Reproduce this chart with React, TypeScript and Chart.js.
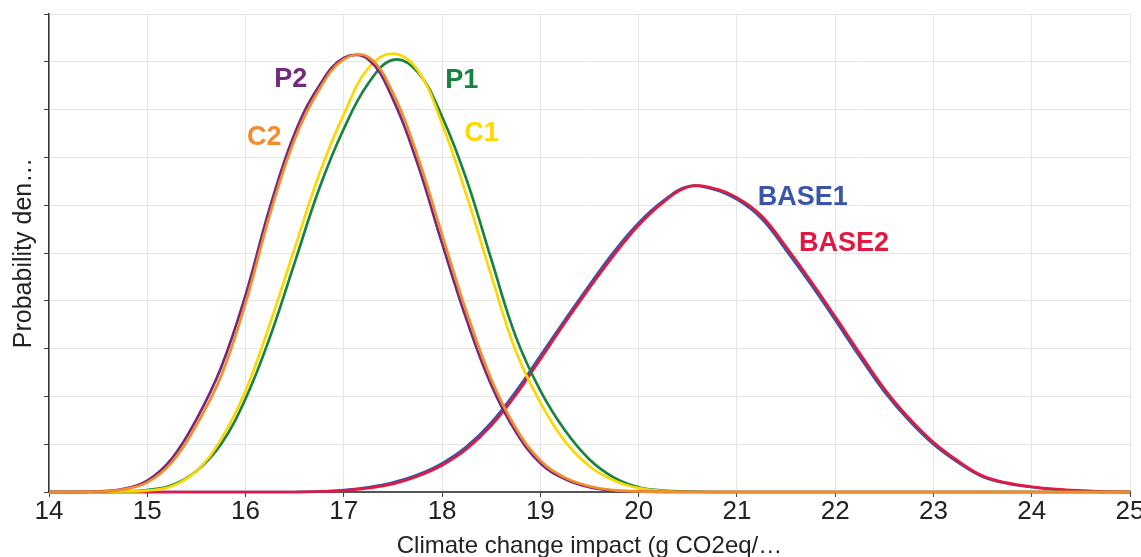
import React, { useEffect, useRef } from 'react';
import { Chart, registerables } from 'chart.js';

Chart.register(...registerables);

const FONT = "'Liberation Sans Narrow', 'Liberation Sans', Arial, sans-serif";

// x grid (g CO2eq / ...)
const xValues = [
  14, 14.25, 14.5, 14.75, 15, 15.25, 15.5, 15.75, 16, 16.25, 16.5, 16.75,
  17, 17.25, 17.5, 17.75, 18, 18.25, 18.5, 18.75, 19, 19.25, 19.5, 19.75,
  20, 20.25, 20.5, 20.75, 21, 21.25, 21.5, 21.75, 22, 22.25, 22.5, 22.75,
  23, 23.25, 23.5, 23.75, 24, 24.25, 24.5, 24.75, 25,
];

// probability density (arbitrary units, gridline = 1)
const c2Values = [
  0, 0, 0.01, 0.05, 0.2, 0.62, 1.4, 2.42, 3.95, 5.82, 7.38, 8.42,
  9.05, 9.1, 8.35, 7.03, 5.38, 3.76, 2.36, 1.34, 0.66, 0.3, 0.12, 0.04,
  0.01, 0, 0, 0, 0, 0, 0, 0, 0, 0, 0, 0,
  0, 0, 0, 0, 0, 0, 0, 0, 0,
];
const p2Values = [
  0, 0, 0.01, 0.06, 0.24, 0.7, 1.52, 2.6, 4.12, 5.97, 7.5, 8.5,
  9.08, 9.05, 8.22, 6.87, 5.2, 3.6, 2.24, 1.26, 0.6, 0.27, 0.1, 0.03,
  0.01, 0, 0, 0, 0, 0, 0, 0, 0, 0, 0, 0,
  0, 0, 0, 0, 0, 0, 0, 0, 0,
];
const c1Values = [
  0, 0, 0, 0.01, 0.03, 0.12, 0.44, 1.1, 2.12, 3.53, 5.1, 6.65,
  7.9, 8.87, 9.17, 8.83, 7.7, 6.2, 4.53, 2.95, 1.87, 1.06, 0.54, 0.24,
  0.08, 0.02, 0, 0, 0, 0, 0, 0, 0, 0, 0, 0,
  0, 0, 0, 0, 0, 0, 0, 0, 0,
];
const p1Values = [
  0, 0, 0, 0.01, 0.04, 0.14, 0.44, 1.0, 1.95, 3.25, 4.8, 6.35,
  7.6, 8.55, 9.04, 8.79, 7.85, 6.53, 4.87, 3.25, 2.12, 1.29, 0.68, 0.3,
  0.1, 0.03, 0.01, 0, 0, 0, 0, 0, 0, 0, 0, 0,
  0, 0, 0, 0, 0, 0, 0, 0, 0,
];
const base2Values = [
  0, 0, 0, 0, 0, 0, 0, 0, 0, 0, 0, 0.01,
  0.03, 0.08, 0.17, 0.33, 0.56, 0.9, 1.39, 2.03, 2.78, 3.54, 4.27, 4.96,
  5.58, 6.06, 6.38, 6.36, 6.16, 5.78, 5.13, 4.42, 3.67, 2.9, 2.16, 1.55,
  1.04, 0.65, 0.34, 0.19, 0.11, 0.06, 0.03, 0.01, 0,
];
const base1Values = [
  0, 0, 0, 0, 0, 0, 0, 0, 0, 0, 0, 0.01,
  0.04, 0.1, 0.2, 0.36, 0.6, 0.95, 1.45, 2.1, 2.85, 3.6, 4.33, 5.03,
  5.63, 6.09, 6.39, 6.34, 6.12, 5.72, 5.06, 4.35, 3.6, 2.83, 2.1, 1.5,
  1.0, 0.62, 0.32, 0.18, 0.1, 0.05, 0.02, 0, 0,
];

const seriesNames = ['C2', 'P2', 'C1', 'P1', 'BASE2', 'BASE1'];
const seriesColors = ['#f58b2b', '#722a7c', '#fcd800', '#17833f', '#e3173f', '#3a55a6'];
const seriesValues = [c2Values, p2Values, c1Values, p1Values, base2Values, base1Values];

// curve labels (data coordinates)
const labelTexts = ['P2', 'C2', 'P1', 'C1', 'BASE1', 'BASE2'];
const labelColors = ['#722a7c', '#f58b2b', '#17833f', '#fcd800', '#3a55a6', '#e3173f'];
const labelX = [16.46, 16.19, 18.2, 18.4, 21.67, 22.09];
const labelY = [8.62, 7.41, 8.6, 7.49, 6.17, 5.19];

const xTitle = 'Climate change impact (g CO2eq/…';
const yTitle = 'Probability den…';

const labelPlugin = {
  id: 'curveLabels',
  afterDatasetsDraw(chart: any) {
    const { ctx } = chart;
    const xs = chart.scales.x;
    const ys = chart.scales.y;
    ctx.save();
    ctx.font = `bold 27px ${FONT}`;
    ctx.textAlign = 'center';
    ctx.textBaseline = 'middle';
    labelTexts.forEach((t, i) => {
      ctx.fillStyle = labelColors[i];
      ctx.fillText(t, xs.getPixelForValue(labelX[i]), ys.getPixelForValue(labelY[i]));
    });
    ctx.restore();
  },
};

export default function App() {
  const ref = useRef<HTMLCanvasElement | null>(null);

  useEffect(() => {
    document.body.style.margin = '0';
    if (!ref.current) return;
    const chart = new Chart(ref.current, {
      type: 'line',
      data: {
        datasets: seriesNames.map((name, i) => ({
          label: name,
          data: xValues.map((x, j) => ({ x, y: seriesValues[i][j] })),
          borderColor: seriesColors[i],
          backgroundColor: seriesColors[i],
          borderWidth: 2.7,
          pointRadius: 0,
          tension: 0.4,
          fill: false,
          clip: false as any,
        })),
      },
      options: {
        animation: false,
        responsive: false,
        maintainAspectRatio: false,
        devicePixelRatio: 1,
        layout: { padding: { top: 14, right: 11, left: 0, bottom: 0 } },
        plugins: {
          legend: { display: false },
          tooltip: { enabled: false },
        },
        scales: {
          x: {
            type: 'linear',
            min: 14,
            max: 25,
            ticks: {
              stepSize: 1,
              autoSkip: false,
              maxRotation: 0,
              color: '#222',
              padding: 2,
              font: { family: FONT, size: 26, lineHeight: 1 },
            },
            grid: {
              color: '#e4e4e4',
              lineWidth: 1,
              drawTicks: true,
              tickLength: 5,
              tickColor: '#444',
            },
            border: { color: '#555', width: 2 },
            title: {
              display: true,
              text: xTitle,
              color: '#222',
              font: { family: FONT, size: 24 },
              padding: { top: 0, bottom: -4 },
            },
            afterFit(scale: any) {
              scale.height = 65;
              scale.paddingLeft = 0;
              scale.paddingRight = 0;
            },
          },
          y: {
            type: 'linear',
            min: 0,
            max: 10,
            ticks: { stepSize: 1, display: false },
            grid: {
              color: '#e4e4e4',
              lineWidth: 1,
              drawTicks: true,
              tickLength: 5,
              tickColor: '#444',
            },
            border: { color: '#333', width: 1.5 },
            title: {
              display: true,
              text: yTitle,
              color: '#222',
              font: { family: FONT, size: 25 },
              padding: { top: 9, bottom: 0 },
            },
            afterFit(scale: any) {
              scale.width = 49;
              scale.paddingTop = 0;
              scale.paddingBottom = 0;
            },
          },
        },
      },
      plugins: [labelPlugin],
    });
    return () => chart.destroy();
  }, []);

  return (
    <div style={{ position: 'absolute', left: 0, top: 0, width: 1141, height: 557 }}>
      <canvas ref={ref} width={1141} height={557} style={{ display: 'block', width: 1141, height: 557 }} />
    </div>
  );
}
